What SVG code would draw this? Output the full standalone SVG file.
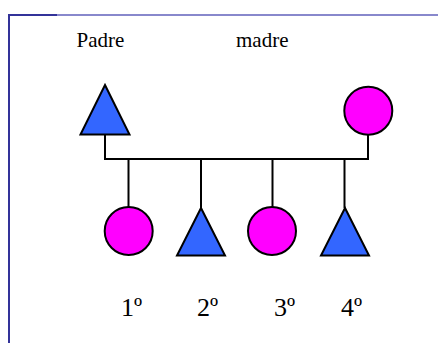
<svg xmlns="http://www.w3.org/2000/svg" width="438" height="343" viewBox="0 0 438 343">
<style>
.t{font-family:"Liberation Serif","Times New Roman",serif;fill:#000}
.m{fill:#3366ff;stroke:#000;stroke-width:2;stroke-linejoin:miter}
.f{fill:#ff00ff;stroke:#000;stroke-width:2}
.c{fill:none;stroke:#000;stroke-width:2}
</style>
<rect width="438" height="343" fill="#fff"/>
<g id="frame">
<line x1="57" y1="15" x2="438" y2="15" stroke="#8888cc" stroke-width="2"/>
<line x1="8" y1="15" x2="57" y2="15" stroke="#333399" stroke-width="2"/>
<line x1="9" y1="14" x2="9" y2="343" stroke="#333399" stroke-width="2"/>
</g>
<g id="labels">
<text class="t" x="76.5" y="47" font-size="21">Padre</text>
<text class="t" x="236" y="47" font-size="21">madre</text>
</g>
<g id="connectors">
<polyline class="c" points="105,134 105,159 368,159 368,135"/>
<line class="c" x1="128.5" y1="159" x2="128.5" y2="207"/>
<line class="c" x1="201" y1="159" x2="201" y2="208"/>
<line class="c" x1="272.5" y1="159" x2="272.5" y2="207"/>
<line class="c" x1="344.5" y1="159" x2="344.5" y2="208"/>
</g>
<g id="padre"><polygon class="m" points="105,85 129.5,134.5 80.5,134.5"/></g>
<g id="madre"><circle class="f" cx="368.3" cy="110.7" r="24"/></g>
<g id="hijo1"><circle class="f" cx="128.7" cy="231" r="24"/><text class="t" x="121" y="316" font-size="26">1º</text></g>
<g id="hijo2"><polygon class="m" points="201,208 225,255.5 177,255.5"/><text class="t" x="197" y="316" font-size="26">2º</text></g>
<g id="hijo3"><circle class="f" cx="272" cy="231" r="24"/><text class="t" x="274" y="316" font-size="26">3º</text></g>
<g id="hijo4"><polygon class="m" points="345,208 369,255.5 321,255.5"/><text class="t" x="341" y="316" font-size="26">4º</text></g>
</svg>
